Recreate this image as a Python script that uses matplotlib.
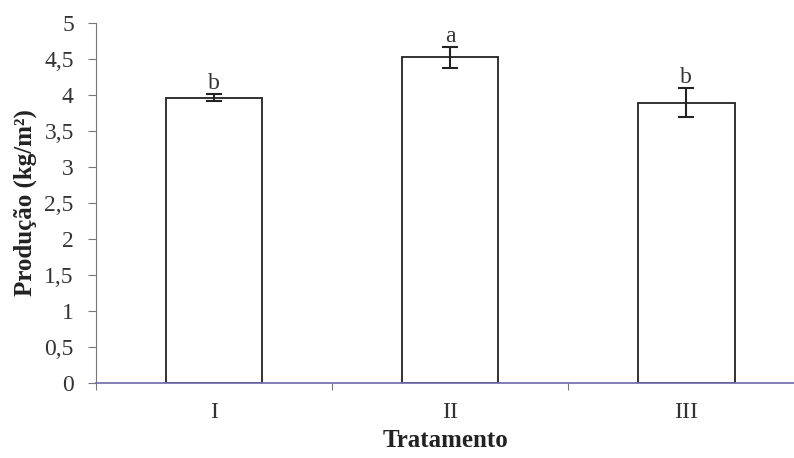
import numpy as np
import matplotlib.pyplot as plt

# Produção média por tratamento, com erro padrão e letras de significância
tratamentos = ["I", "II", "III"]
producao = [3.96, 4.52, 3.89]
erro = [0.05, 0.14, 0.20]
letras = ["b", "a", "b"]

plt.rcParams["font.family"] = ["Liberation Serif", "DejaVu Serif"]

fig = plt.figure(figsize=(7.94, 4.58), dpi=100)
ax = fig.add_axes([0.121, 0.164, 0.879, 0.786])

x = np.arange(len(tratamentos))
ax.bar(x, producao, width=0.41, color="white", edgecolor="#222222", linewidth=1.3, zorder=2)
ax.errorbar(x, producao, yerr=erro, fmt="none", ecolor="#222222",
            elinewidth=1.5, capsize=6, capthick=1.5, zorder=3)
for xi, v, e, l in zip(x, producao, erro, letras):
    ax.text(xi, v + e, l, ha="center", va="bottom", fontsize=17, color="#333333")

ax.set_xlim(-0.5, 2.457)
ax.set_ylim(0, 5)
ax.set_yticks(np.arange(0, 5.01, 0.5))
ax.set_yticklabels([f"{t:g}".replace(".", ",") for t in np.arange(0, 5.01, 0.5)])

# ticks nas divisões entre categorias, rótulos centrados nas barras
ax.set_xticks([-0.5, 0.5, 1.5])
ax.set_xticklabels([])
ax.set_xticks(x, minor=True)
ax.set_xticklabels(tratamentos, minor=True)
ax.tick_params(axis="x", which="minor", length=0, pad=14, labelsize=17, labelcolor="#333333")
ax.tick_params(axis="x", which="major", length=5, color="#777777")
ax.tick_params(axis="y", length=6, color="#777777", labelsize=17, pad=10, labelcolor="#333333")

for s in ["top", "right"]:
    ax.spines[s].set_visible(False)
ax.spines["left"].set_color("#777777")
ax.spines["bottom"].set_color("#6a6aa8")
ax.spines["bottom"].set_linewidth(1.2)

ax.set_ylabel("Produção (kg/m²)", fontsize=18, fontweight="bold", labelpad=5, color="#222222")
ax.set_xlabel("Tratamento", fontsize=18, fontweight="bold", labelpad=4, color="#222222")

fig.savefig("out.png", dpi=100)
